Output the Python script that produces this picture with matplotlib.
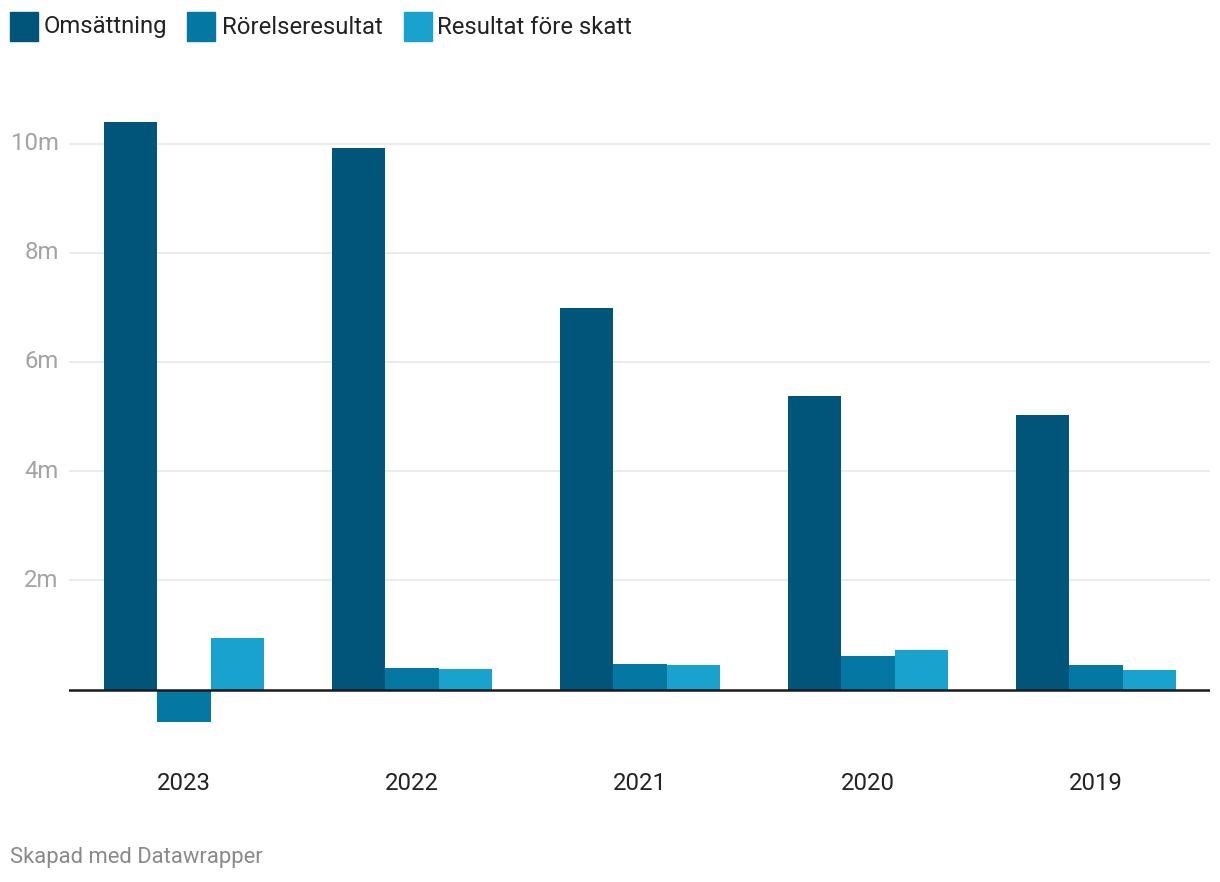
import matplotlib.pyplot as plt
import numpy as np
from matplotlib.patches import Rectangle

plt.rcParams['font.family'] = ['Roboto', 'DejaVu Sans']

# Data (miljoner kr)
years = ['2023', '2022', '2021', '2020', '2019']
series_names = ['Omsättning', 'Rörelseresultat', 'Resultat före skatt']
omsattning = [10.40, 9.91, 6.99, 5.38, 5.03]
rorelseresultat = [-0.59, 0.39, 0.46, 0.62, 0.45]
resultat_fore_skatt = [0.94, 0.37, 0.44, 0.73, 0.36]
y_ticks = [2, 4, 6, 8, 10]
y_tick_labels = ['2m', '4m', '6m', '8m', '10m']

colors = ['#01547a', '#0577a3', '#19a2ce']

W, H = 1220, 882
fig = plt.figure(figsize=(W / 100, H / 100), dpi=100)

# Axes placed in pixel coordinates
left, right, top, bottom = 69, 1210, 100, 740
ax = fig.add_axes([left / W, 1 - bottom / H, (right - left) / W, (bottom - top) / H])

px_per_m = 54.6
zero_px = 689.5
ax.set_ylim(-(bottom - zero_px) / px_per_m, (zero_px - top) / px_per_m)
ax.set_xlim(-0.505, 4.5)

x = np.arange(len(years))
width = 0.234
all_series = [omsattning, rorelseresultat, resultat_fore_skatt]
for i, (vals, col) in enumerate(zip(all_series, colors)):
    ax.bar(x + (i - 1) * width, vals, width=width, color=col, zorder=3, linewidth=0)

# Gridlines
for t in y_ticks:
    ax.axhline(t, color='#e5e5e5', lw=1.1, zorder=1)
ax.axhline(0, color='#1a1a1a', lw=1.8, zorder=4)

for s in ax.spines.values():
    s.set_visible(False)
ax.set_xticks([])
ax.set_yticks([])

# Y tick labels
for t, lab in zip(y_ticks, y_tick_labels):
    ax.text(-0.55, t, lab, ha='right', va='center', fontsize=17.2, color='#a3a3a3',
            transform=ax.transData, clip_on=False)

# Year labels
for xi, yr in zip(x, years):
    fig.text((left + (xi + 0.505) / 5.005 * (right - left)) / W, 1 - 784 / H, yr,
             ha='center', va='center', fontsize=17.2, color='#222222')

# Legend
legend_items = [(10, 44), (187, 222), (404, 437)]
for (sx, tx), name, col in zip(legend_items, series_names, colors):
    fig.patches.append(Rectangle((sx / W, 1 - 41 / H), 28 / W, 29 / H,
                                 transform=fig.transFigure, color=col, figure=fig))
    fig.text(tx / W, 1 - 27 / H, name, ha='left', va='center', fontsize=17.2, color='#222222')

# Footer
fig.text(10 / W, 1 - 857 / H, 'Skapad med Datawrapper', ha='left', va='center',
         fontsize=15.8, color='#8a8a8a')

fig.savefig('out.png', dpi=100)
